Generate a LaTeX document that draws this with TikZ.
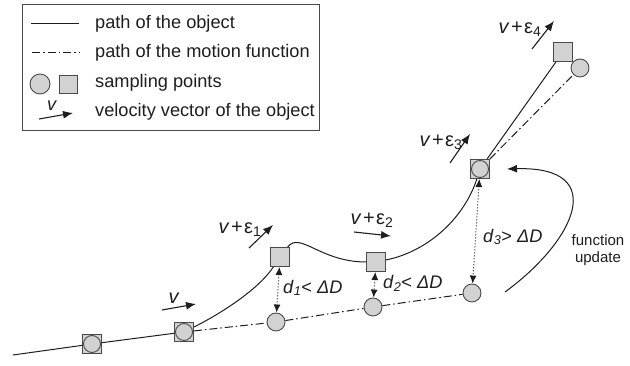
\documentclass[tikz,border=0pt]{standalone}
\usepackage{fontspec}
\setmainfont{Liberation Sans}
\usepackage{xcolor}
\definecolor{pathdark}{HTML}{1E1E1E}
\definecolor{pointfill}{HTML}{D2D2D2}
\definecolor{pointrule}{HTML}{4A4A4A}
\usetikzlibrary{arrows.meta, positioning}
\tikzset{
  samplesq/.style={rectangle, draw=pointrule, fill=pointfill, line width=0.9pt,
                   minimum size=19pt, inner sep=0pt},
  samplecirc/.style={circle, draw=pointrule, fill=pointfill, line width=0.9pt,
                     minimum size=18pt, inner sep=0pt},
  objpath/.style={pathdark, line width=1pt},
  fnpath/.style={pathdark, line width=1pt, dash pattern=on 8pt off 3pt on 1.5pt off 3pt},
  vel/.style={pathdark, line width=1.1pt, -{Latex[length=10pt,width=8pt]}},
  distarrow/.style={pathdark, line width=1pt, dotted,
                    {Latex[length=8pt,width=7pt]}-{Latex[length=8pt,width=7pt]}},
  lbl/.style={font=\fontsize{18.2}{21}\selectfont, text=pathdark, inner sep=0pt},
  vlbl/.style={font=\fontsize{20}{23}\selectfont, text=pathdark, inner sep=0pt},
}
\newcommand{\veps}[1]{\textit{v}\kern1.5pt+\kern1.5ptε\textsubscript{#1}}
\newcommand{\dlabel}[2]{\textit{d}\textsubscript{\textit{#1}}#2 \textit{ΔD}}

\begin{document}
\begin{tikzpicture}[x=1pt, y=1pt]
  \useasboundingbox (0,0) rectangle (630,366);

  % legend
  \draw[pointrule, line width=1pt] (22,235) rectangle (319,361);
  \coordinate (l1a) at (31,342);  \coordinate (l1b) at (79,342);
  \coordinate (l2a) at (32,313);  \coordinate (l2b) at (79,313);
  \coordinate (l4a) at (39,247);  \coordinate (l4b) at (73,253);
  \draw[objpath] (l1a) -- (l1b);
  \draw[fnpath] (l2a) -- (l2b);
  \node[samplecirc, minimum size=20pt] (lcirc) at (40,282) {};
  \node[samplesq, minimum size=18pt] (lsq) at (68,282) {};
  \draw[vel] (l4a) -- (l4b);
  \node[lbl] (lv) at (52,260) {\textit{v}};
  \node[lbl, anchor=west] (ltext1) at (95,342) {path of the object};
  \node[lbl, anchor=west] (ltext2) at (95,313) {path of the motion function};
  \node[lbl, anchor=west] (ltext3) at (95,283) {sampling points};
  \node[lbl, anchor=west] (ltext4) at (95,254) {velocity vector of the object};

  % sampling points
  \coordinate (start) at (13,11);
  \node[samplesq] (s0) at (92,22) {};
  \node[samplecirc, minimum size=17pt] (s0c) at (s0) {};
  \node[samplesq] (s1) at (184,34) {};
  \node[samplecirc, minimum size=17pt] (s1c) at (s1) {};
  \node[samplesq] (q1) at (280,109) {};
  \node[samplesq] (q2) at (376,104) {};
  \node[samplesq] (q3) at (480,197) {};
  \node[samplecirc, minimum size=17pt] (q3c) at (q3) {};
  \node[samplesq] (q4) at (563,314) {};
  \node[samplecirc] (c1) at (276,44) {};
  \node[samplecirc] (c2) at (373,59) {};
  \node[samplecirc] (c3) at (472,73) {};
  \node[samplecirc] (c4) at (580,298) {};

  % path of the object
  \draw[objpath] (start) -- (s0) -- (s1);
  \draw[objpath] (s1) .. controls (220,52) and (258,76) .. (q1);
  \draw[objpath] (q1) .. controls (300,135) and (320,104) .. (q2);
  \draw[objpath] (q2) .. controls (430,115) and (465,150) .. (q3);
  \draw[objpath] (q3) -- (q4);

  % path of the motion function
  \draw[fnpath] (s1) -- (c1) -- (c2) -- (c3);
  \draw[fnpath] (q3) -- (c4);

  % distances
  \draw[distarrow] (q1) -- (c1);
  \draw[distarrow] (q2) -- (c2);
  \draw[distarrow] (q3) -- (c3);
  \node[lbl, anchor=west] (d1) at (283,78) {\dlabel{1}{<}};
  \node[lbl, anchor=west] (d2) at (383,83) {\dlabel{2}{<}};
  \node[lbl, anchor=west] (d3) at (483,129) {\dlabel{3}{>}};

  % velocity vectors
  \coordinate (v0a) at (162,56);  \coordinate (v0b) at (196,62);
  \coordinate (v1a) at (249,118); \coordinate (v1b) at (273,141);
  \coordinate (v2a) at (354,134); \coordinate (v2b) at (391,130);
  \coordinate (v3a) at (450,203); \coordinate (v3b) at (470,232);
  \coordinate (v4a) at (532,317); \coordinate (v4b) at (554,345);
  \draw[vel] (v0a) -- (v0b);
  \draw[vel] (v1a) -- (v1b);
  \draw[vel] (v2a) -- (v2b);
  \draw[vel] (v3a) -- (v3b);
  \draw[vel] (v4a) -- (v4b);
  \node[vlbl] (v0) at (174,68) {\textit{v}};
  \node[vlbl] (e1) at (240,137) {\veps{1}};
  \node[vlbl] (e2) at (372,146) {\veps{2}};
  \node[vlbl] (e3) at (441,224) {\veps{3}};
  \node[vlbl] (e4) at (520,337) {\veps{4}};

  % function update
  \coordinate (fua) at (505,74);
  \coordinate (fub) at (507,197);
  \draw[objpath, -{Latex[length=10pt,width=8pt]}] (fua) .. controls (575,125) and (610,200) .. (fub);
  \node[font=\fontsize{15}{17.5}\selectfont, text=pathdark, align=center] (fu) at (598,116) {function\\update};
\end{tikzpicture}
\end{document}
